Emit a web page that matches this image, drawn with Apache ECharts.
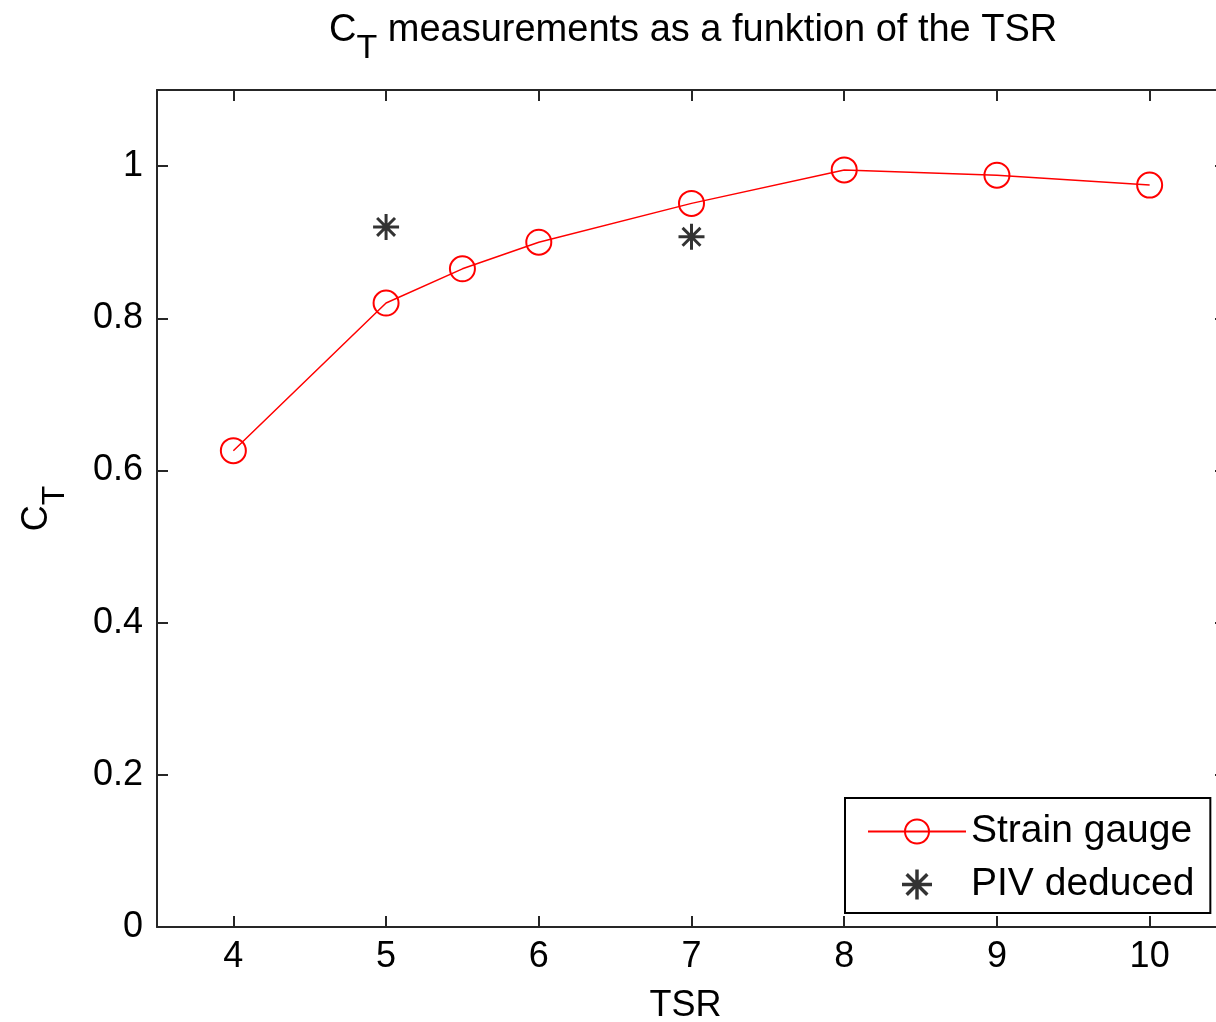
<!DOCTYPE html>
<html>
<head>
<meta charset="utf-8">
<script src="https://cdn.jsdelivr.net/npm/echarts@6/dist/echarts.min.js"></script>
<style>
html,body{margin:0;padding:0;background:#fff;}
#main{width:1216px;height:1022px;}
</style>
</head>
<body>
<div id="main"></div>
<script>
// ---- data ----
var strainTSR = [4, 5, 5.5, 6, 7, 8, 9, 10];
var strainCT = [0.626, 0.820, 0.865, 0.900, 0.951, 0.995, 0.988, 0.975];
var pivTSR = [5, 7];
var pivCT = [0.920, 0.907];
var xTicks = [4, 5, 6, 7, 8, 9, 10];
var yTicks = [0, 0.2, 0.4, 0.6, 0.8, 1];
var seriesNames = ['Strain gauge', 'PIV deduced'];

var FONT = '"Liberation Sans", Arial, Helvetica, sans-serif';
var FS = 36;

var starPath = 'path://M-1.5,-13L1.5,-13L1.5,13L-1.5,13Z M-13,-1.5L13,-1.5L13,1.5L-13,1.5Z ' +
  'M-10,-7.9L-7.9,-10L10,7.9L7.9,10Z M7.9,-10L10,-7.9L-7.9,10L-10,7.9Z ' +
  'M-3.5,-3.5L3.5,-3.5L3.5,3.5L-3.5,3.5Z';

function zip(a, b) { return a.map(function (v, i) { return [v, b[i]]; }); }

var axisLineStyle = { color: '#262626', width: 2 };
var tickStyle = { color: '#262626', width: 2 };

var chart = echarts.init(document.getElementById('main'), null, { renderer: 'canvas' });
function richSub(fs) {
  return {
    n: { fontFamily: FONT, fontSize: fs, fontWeight: 'normal', color: '#000', verticalAlign: 'top', lineHeight: fs + 2 },
    s: { fontFamily: FONT, fontSize: fs - 4, fontWeight: 'normal', color: '#000', verticalAlign: 'top', padding: [20, 0, 0, 0], lineHeight: fs - 2 }
  };
}
var option = {
  backgroundColor: '#ffffff',
  animation: false,
  title: {
    text: '{n|C}{s|T}{n| measurements as a funktion of the TSR}',
    left: 324,
    top: 7,
    textStyle: { fontWeight: 'normal', rich: richSub(38) }
  },
  grid: { left: 157, top: 90, width: 1069, height: 837, outerBoundsMode: 'none' },
  legend: {
    orient: 'vertical',
    left: 845,
    top: 798,
    padding: [14, 16, 9, 22],
    itemGap: 14,
    itemWidth: 98,
    itemHeight: 30,
    itemTextGap: 11,
    backgroundColor: '#ffffff',
    borderColor: '#000',
    borderWidth: 2,
    borderRadius: 0,
    textStyle: { fontFamily: FONT, fontSize: 39, color: '#000' },
    data: seriesNames
  },
  xAxis: [{
    type: 'value', min: 3.5, max: 10.5, position: 'bottom',
    name: 'TSR', nameLocation: 'middle', nameGap: 61,
    nameTextStyle: { fontFamily: FONT, fontSize: FS, color: '#000', padding: [0, 12, 0, 0] },
    axisLine: { show: true, onZero: false, lineStyle: axisLineStyle },
    axisTick: { show: true, inside: true, length: 11, lineStyle: tickStyle, customValues: xTicks },
    axisLabel: { show: true, margin: 12, fontFamily: FONT, fontSize: FS, color: '#000', customValues: xTicks },
    splitLine: { show: false }
  }, {
    type: 'value', min: 3.5, max: 10.5, position: 'top',
    axisLine: { show: true, onZero: false, lineStyle: axisLineStyle },
    axisTick: { show: true, inside: true, length: 11, lineStyle: tickStyle, customValues: xTicks },
    axisLabel: { show: false },
    splitLine: { show: false }
  }],
  yAxis: [{
    type: 'value', min: 0, max: 1.1, position: 'left',
    name: '{n|C}{s|T}', nameLocation: 'middle', nameGap: 100, nameRotate: 90,
    nameTextStyle: { rich: richSub(FS) },
    axisLine: { show: true, onZero: false, lineStyle: axisLineStyle },
    axisTick: { show: true, inside: true, length: 11, lineStyle: tickStyle, customValues: yTicks },
    axisLabel: {
      show: true, margin: 14, fontFamily: FONT, fontSize: FS, color: '#000', customValues: yTicks,
      formatter: function (v) { return String(Math.round(v * 10) / 10); }
    },
    splitLine: { show: false }
  }, {
    type: 'value', min: 0, max: 1.1, position: 'right',
    axisLine: { show: true, onZero: false, lineStyle: axisLineStyle },
    axisTick: { show: true, inside: true, length: 11, lineStyle: tickStyle, customValues: yTicks },
    axisLabel: { show: false },
    splitLine: { show: false }
  }],
  series: [{
    name: seriesNames[0],
    type: 'line',
    xAxisIndex: 0, yAxisIndex: 0,
    data: zip(strainTSR, strainCT),
    symbol: 'circle',
    symbolSize: 25,
    showAllSymbol: true,
    color: '#ff0000',
    z: 3,
    lineStyle: { color: '#ff0000', width: 1.5 },
    itemStyle: { color: 'rgba(255,255,255,0)', borderColor: '#ff0000', borderWidth: 2 }
  }, {
    name: seriesNames[1],
    type: 'scatter',
    xAxisIndex: 0, yAxisIndex: 0,
    data: zip(pivTSR, pivCT),
    symbol: starPath,
    symbolSize: 26,
    symbolKeepAspect: true,
    color: '#000000',
    itemStyle: { color: '#000000' }
  }]
};
chart.setOption(option);
</script>
</body>
</html>
